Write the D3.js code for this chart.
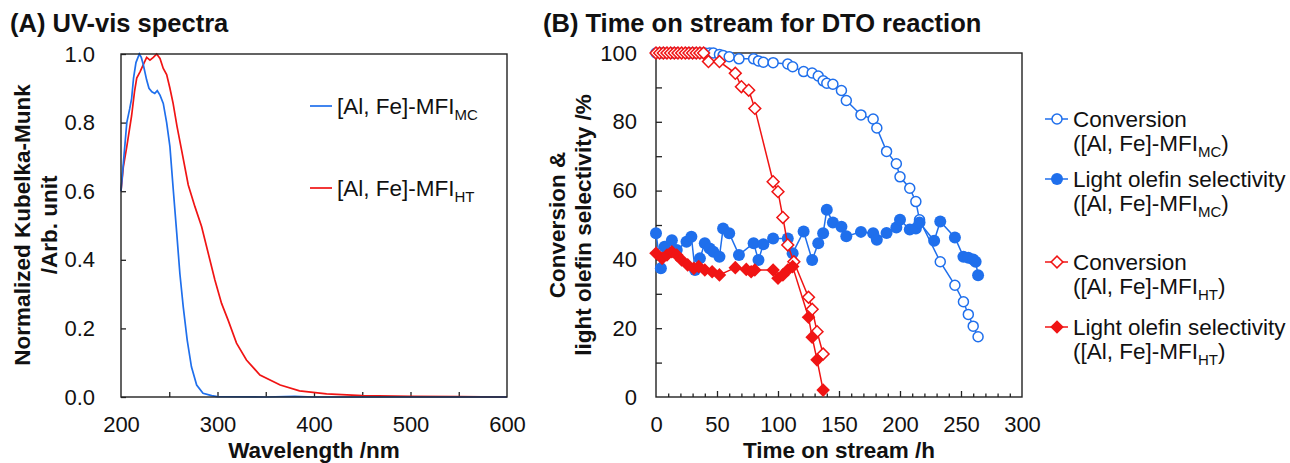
<!DOCTYPE html>
<html>
<head>
<meta charset="utf-8">
<script src="https://cdn.jsdelivr.net/npm/d3@7"></script>
<style>
  body { margin: 0; background: #fff; }
  text { font-family: "Liberation Sans", Arial, sans-serif; fill: #111; }
</style>
</head>
<body>
<div id="vis"></div>
<script>
// ---- panel A : UV-vis spectra ----
const nmMC = [200, 203, 206, 209, 211, 213, 215.5, 219, 221, 223, 226.6, 229, 232, 235, 237.6, 240.4, 243.8,
  247.3, 250.7, 254, 257.7, 261, 264.5, 268.6, 273, 278.4, 285, 294, 300, 350, 380, 400, 600];
const kmMC = [0.60, 0.70, 0.80, 0.84, 0.87, 0.93, 0.975, 1.0, 0.99, 0.97, 0.924, 0.90, 0.89, 0.885, 0.893, 0.88, 0.856,
  0.80, 0.73, 0.61, 0.48, 0.36, 0.263, 0.166, 0.088, 0.035, 0.011, 0.004, 0.001, 0, 0.002, 0, 0];

const nmHT = [200, 202.4, 206, 211, 214, 216.3, 219.7, 223, 226.6, 230, 233.5, 237, 240.4, 243.8, 247.3, 250.7, 254,
  258, 262.8, 269.7, 276.6, 283.5, 290.4, 297.3, 304.2, 311, 319.7, 330, 344, 365, 385, 413, 450, 500, 550, 600];
const kmHT = [0.60, 0.67, 0.73, 0.82, 0.89, 0.93, 0.948, 0.968, 0.99, 0.982, 0.99, 1.0, 0.987, 0.958, 0.94, 0.90, 0.856,
  0.79, 0.72, 0.618, 0.555, 0.497, 0.419, 0.341, 0.273, 0.224, 0.157, 0.108, 0.064, 0.035, 0.018, 0.009, 0.004, 0.002, 0.001, 0];

// ---- panel B : time on stream ----
const tConvMC = [0, 4, 7, 13, 17, 25, 29, 32, 36, 40, 44, 47, 52, 55, 60, 68, 80, 84, 88, 96, 108, 112,
  121, 128, 133, 137, 140, 145, 152, 156, 168, 178, 181, 189, 197, 200, 208, 213, 216, 233, 245, 252, 256, 260, 264];
const convMC = [100, 100, 100, 100, 100, 100, 100, 100, 100, 100, 100, 100, 99.6, 99.3, 98.9, 98.3, 98.3, 97.7, 97.3, 97.2, 96.8, 96,
  94.6, 94.2, 93.3, 91.9, 91.2, 90.9, 89.1, 86.2, 82, 80.8, 78.2, 71.4, 67.8, 64, 60.7, 56.8, 51.5, 39.3, 32.5, 27.7, 24, 20.6, 17.5];

const tSelMC = [0, 4, 7, 13, 17, 25, 29, 32, 36, 40, 44, 47, 52, 55, 60, 68, 80, 84, 88, 96, 108, 112, 121, 128, 133,
  137, 140, 145, 152, 156, 168, 178, 181, 189, 197, 200, 208, 213, 216, 228, 233, 245, 252, 256, 260, 262, 264];
const selMC = [47.6, 37.4, 43.7, 45.6, 42.7, 45.1, 46.6, 36.9, 40.3, 44.7, 43.2, 42.2, 40.8, 49, 47.6, 41.3, 44.7, 39.8, 44.4, 46.1,
  46.1, 41.8, 48.1, 39.8, 44.7, 47.6, 54.4, 50.7, 49.5, 46.7, 48, 47.6, 45.7, 47.7, 49.3, 51.5, 48.7, 49, 50.7, 45.4,
  51, 46.4, 40.8, 40.5, 40, 39.3, 35.4];

const tConvHT = [0, 3, 6, 9, 12, 15, 18, 21, 24, 27, 30, 33, 36, 39, 43, 52, 65, 70, 76, 81, 96, 100, 104, 108, 113, 125, 128, 132, 137];
const convHT = [100, 100, 100, 100, 100, 100, 100, 100, 100, 100, 100, 100, 100, 100, 97.5, 97.5, 94.1, 90.2, 89.2, 83.9,
  62.6, 59.7, 52.2, 44.2, 39.3, 29, 25.5, 19, 12.5];

const tSelHT = [0, 5, 9, 13, 17, 21, 26, 31, 35, 40, 46, 52, 65, 74, 78, 81, 96, 100, 104, 108, 112, 125, 128, 132, 137];
const selHT = [41.8, 40.3, 41.3, 42.2, 41.3, 39.8, 38.4, 37.4, 37.9, 36.9, 36.4, 35.5, 37.6, 37.1, 36.4, 36.9, 36.9, 34.5,
  35.5, 36.9, 37.9, 23.2, 17.4, 10.8, 2];

const blue = "#1f6fec";
const red = "#f01414";
const frameColor = "#222";
const tickFont = 22;

const svg = d3.select("#vis").append("svg")
  .attr("width", 1290)
  .attr("height", 463);

const zip = (xs, ys) => xs.map((x, i) => [x, ys[i]]);

// ================= panel A =================
const xA = d3.scaleLinear().domain([200, 600]).range([121, 507]);
const yA = d3.scaleLinear().domain([0, 1]).range([397, 54]);
const gA = svg.append("g");

gA.append("g")
  .attr("transform", `translate(0,${yA(0)})`)
  .call(d3.axisBottom(xA).tickValues(d3.range(250, 600, 50)).tickSize(-5).tickFormat(""))
  .call(g => g.select(".domain").remove())
  .call(g => g.selectAll("line").attr("stroke", frameColor).attr("stroke-width", 1.3));

gA.append("g")
  .attr("transform", `translate(0,${yA(0)})`)
  .call(d3.axisBottom(xA).tickValues([200, 300, 400, 500, 600]).tickSize(0).tickPadding(19))
  .call(g => g.select(".domain").remove())
  .call(g => g.selectAll("text").attr("font-size", tickFont).attr("fill", "#111").attr("font-family", "Liberation Sans, Arial"));

gA.append("g")
  .attr("transform", `translate(${xA(200)},0)`)
  .call(d3.axisLeft(yA).tickValues([0, 0.2, 0.4, 0.6, 0.8, 1.0]).tickSize(-5).tickPadding(26).tickFormat(d3.format(".1f")))
  .call(g => g.select(".domain").remove())
  .call(g => g.selectAll("line").attr("stroke", frameColor).attr("stroke-width", 1.3))
  .call(g => g.selectAll("text").attr("font-size", tickFont).attr("fill", "#111").attr("font-family", "Liberation Sans, Arial"));

const lineA = d3.line().x(d => xA(d[0])).y(d => yA(d[1]));
gA.append("path").datum(zip(nmHT, kmHT))
  .attr("d", lineA).attr("fill", "none").attr("stroke", red).attr("stroke-width", 1.7);
gA.append("path").datum(zip(nmMC, kmMC))
  .attr("d", lineA).attr("fill", "none").attr("stroke", blue).attr("stroke-width", 1.7);

gA.append("rect")
  .attr("x", xA(200)).attr("y", yA(1))
  .attr("width", xA(600) - xA(200)).attr("height", yA(0) - yA(1))
  .attr("fill", "none").attr("stroke", frameColor).attr("stroke-width", 1.4);

// legend A
const legA = [{ c: blue, sub: "MC", y: 106 }, { c: red, sub: "HT", y: 188 }];
legA.forEach(d => {
  gA.append("line").attr("x1", 310).attr("x2", 332).attr("y1", d.y).attr("y2", d.y)
    .attr("stroke", d.c).attr("stroke-width", 1.7);
  const t = gA.append("text").attr("x", 337).attr("y", d.y).attr("dy", "0.36em").attr("font-size", 22.5);
  t.append("tspan").text("[Al, Fe]-MFI");
  t.append("tspan").text(d.sub).attr("font-size", 15).attr("dy", 6);
});

// titles A
svg.append("text").attr("x", 10).attr("y", 32).attr("font-size", 25.5).attr("font-weight", "bold")
  .text("(A) UV-vis spectra");
svg.append("text").attr("x", (xA(200) + xA(600)) / 2).attr("y", 458).attr("text-anchor", "middle")
  .attr("font-size", 22.5).attr("font-weight", "bold").text("Wavelength /nm");
svg.append("text").attr("transform", "translate(30,225) rotate(-90)").attr("text-anchor", "middle")
  .attr("font-size", 22.5).attr("font-weight", "bold").text("Normalized Kubelka-Munk");
svg.append("text").attr("transform", "translate(57,225) rotate(-90)").attr("text-anchor", "middle")
  .attr("font-size", 22.5).attr("font-weight", "bold").text("/Arb. unit");

// ================= panel B =================
const xB = d3.scaleLinear().domain([0, 300]).range([656, 1022]);
const yB = d3.scaleLinear().domain([0, 100]).range([397, 53]);
const gB = svg.append("g");

gB.append("g")
  .attr("transform", `translate(0,${yB(0)})`)
  .call(d3.axisBottom(xB).tickValues(d3.range(10, 300, 10).filter(v => v % 50 !== 0)).tickSize(-3.5).tickFormat(""))
  .call(g => g.select(".domain").remove())
  .call(g => g.selectAll("line").attr("stroke", frameColor).attr("stroke-width", 1.3));

gB.append("g")
  .attr("transform", `translate(0,${yB(0)})`)
  .call(d3.axisBottom(xB).tickValues(d3.range(50, 300, 50)).tickSize(-6).tickFormat(""))
  .call(g => g.select(".domain").remove())
  .call(g => g.selectAll("line").attr("stroke", frameColor).attr("stroke-width", 1.3));

gB.append("g")
  .attr("transform", `translate(0,${yB(0)})`)
  .call(d3.axisBottom(xB).tickValues(d3.range(0, 301, 50)).tickSize(0).tickPadding(19))
  .call(g => g.select(".domain").remove())
  .call(g => g.selectAll("text").attr("font-size", tickFont).attr("fill", "#111").attr("font-family", "Liberation Sans, Arial"));

gB.append("g")
  .attr("transform", `translate(${xB(0)},0)`)
  .call(d3.axisLeft(yB).tickValues(d3.range(10, 100, 10)).tickSize(-6).tickFormat(""))
  .call(g => g.select(".domain").remove())
  .call(g => g.selectAll("line").attr("stroke", frameColor).attr("stroke-width", 1.3));

gB.append("g")
  .attr("transform", `translate(${xB(0)},0)`)
  .call(d3.axisLeft(yB).tickValues(d3.range(0, 101, 20)).tickSize(0).tickPadding(19))
  .call(g => g.select(".domain").remove())
  .call(g => g.selectAll("text").attr("font-size", tickFont).attr("fill", "#111").attr("font-family", "Liberation Sans, Arial"));

gB.append("rect")
  .attr("x", xB(0)).attr("y", yB(100))
  .attr("width", xB(300) - xB(0)).attr("height", yB(0) - yB(100))
  .attr("fill", "none").attr("stroke", frameColor).attr("stroke-width", 1.4);

const lineB = d3.line().x(d => xB(d[0])).y(d => yB(d[1]));
const diamondOpen = d3.symbol().type(d3.symbolSquare).size(70);
const diamondFull = d3.symbol().type(d3.symbolSquare).size(92);

const series = [
  { t: tConvMC, v: convMC, c: blue, kind: "circleOpen" },
  { t: tSelMC, v: selMC, c: blue, kind: "circleFull" },
  { t: tConvHT, v: convHT, c: red, kind: "diamondOpen" },
  { t: tSelHT, v: selHT, c: red, kind: "diamondFull" }
];

function drawMarker(sel, kind, c) {
  if (kind === "circleOpen") {
    sel.append("circle").attr("r", 5).attr("fill", "#fff").attr("stroke", c).attr("stroke-width", 1.5);
  } else if (kind === "circleFull") {
    sel.append("circle").attr("r", 6).attr("fill", c);
  } else if (kind === "diamondOpen") {
    sel.append("path").attr("d", diamondOpen()).attr("transform", "rotate(45)")
      .attr("fill", "#fff").attr("stroke", c).attr("stroke-width", 1.5);
  } else {
    sel.append("path").attr("d", diamondFull()).attr("transform", "rotate(45)").attr("fill", c);
  }
}

series.forEach(s => {
  const pts = zip(s.t, s.v);
  gB.append("path").datum(pts).attr("d", lineB)
    .attr("fill", "none").attr("stroke", s.c).attr("stroke-width", 1.5);
  gB.selectAll(null).data(pts).enter().append("g")
    .attr("transform", d => `translate(${xB(d[0])},${yB(d[1])})`)
    .each(function () { drawMarker(d3.select(this), s.kind, s.c); });
});

// legend B
const legB = [
  { l1: "Conversion", sub: "MC", c: blue, kind: "circleOpen", y: 119 },
  { l1: "Light olefin selectivity", sub: "MC", c: blue, kind: "circleFull", y: 179 },
  { l1: "Conversion", sub: "HT", c: red, kind: "diamondOpen", y: 262 },
  { l1: "Light olefin selectivity", sub: "HT", c: red, kind: "diamondFull", y: 327 }
];
legB.forEach(d => {
  gB.append("line").attr("x1", 1045).attr("x2", 1068).attr("y1", d.y).attr("y2", d.y)
    .attr("stroke", d.c).attr("stroke-width", 1.5);
  drawMarker(gB.append("g").attr("transform", `translate(1057,${d.y})`), d.kind, d.c);
  gB.append("text").attr("x", 1073).attr("y", d.y).attr("dy", "0.36em").attr("font-size", 22.5).text(d.l1);
  const t = gB.append("text").attr("x", 1073).attr("y", d.y + 24).attr("dy", "0.36em").attr("font-size", 22.5);
  t.append("tspan").text("([Al, Fe]-MFI");
  t.append("tspan").text(d.sub).attr("font-size", 15).attr("dy", 6);
  t.append("tspan").text(")").attr("dy", -6);
});

// titles B
svg.append("text").attr("x", 543).attr("y", 32).attr("font-size", 25.5).attr("font-weight", "bold")
  .text("(B) Time on stream for DTO reaction");
svg.append("text").attr("x", (xB(0) + xB(300)) / 2).attr("y", 458).attr("text-anchor", "middle")
  .attr("font-size", 22.5).attr("font-weight", "bold").text("Time on stream /h");
svg.append("text").attr("transform", "translate(565,225) rotate(-90)").attr("text-anchor", "middle")
  .attr("font-size", 22.5).attr("font-weight", "bold").text("Conversion &");
svg.append("text").attr("transform", "translate(591,225) rotate(-90)").attr("text-anchor", "middle")
  .attr("font-size", 22.5).attr("font-weight", "bold").text("light olefin selectivity /%");
</script>
</body>
</html>
